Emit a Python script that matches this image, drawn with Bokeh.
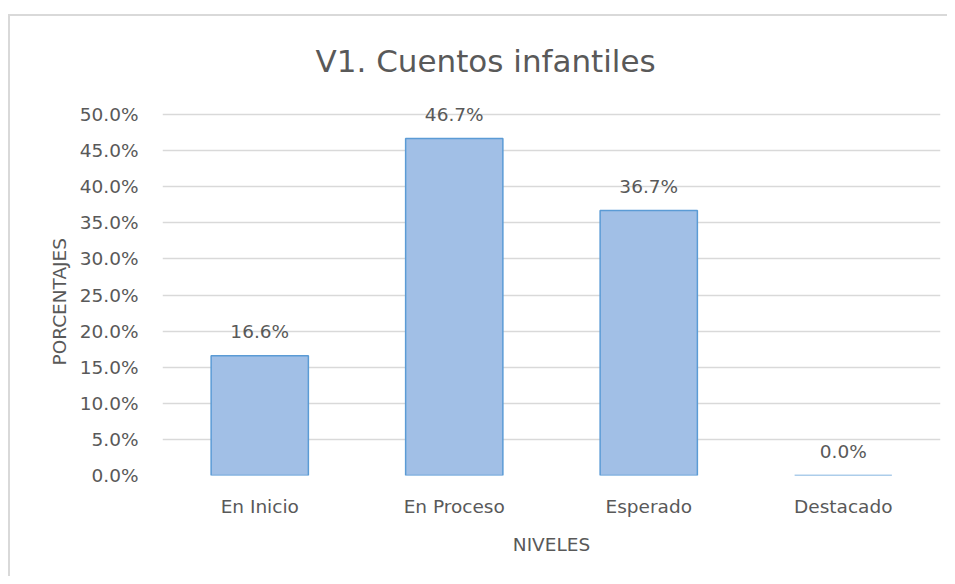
from bokeh.plotting import figure
from bokeh.layouts import column
from bokeh.models import (ColumnDataSource, NumeralTickFormatter, FixedTicker,
                          LabelSet, Range1d, InlineStyleSheet, Title)
from bokeh.core.properties import value
from bokeh.embed import file_html
from bokeh.resources import INLINE

categories = ["En Inicio", "En Proceso", "Esperado", "Destacado"]
percentages = [0.166, 0.467, 0.367, 0.0]
y_ticks = [0.0, 0.05, 0.10, 0.15, 0.20, 0.25, 0.30, 0.35, 0.40, 0.45, 0.50]
title_text = "V1. Cuentos  infantiles"
x_title = "NIVELES"
y_title = "PORCENTAJES"

FONT = "DejaVu Sans"
GRAY = "#595959"
FS = "18.5px"

W, H = 947, 576
FL, FR, FT, FB = 162, 7, 78, 101  # frame borders
Y_MAX = 0.55  # headroom above the 50% line for the value labels

labels = [f"{v * 100:.1f}%" for v in percentages]
src = ColumnDataSource(dict(cat=categories, val=percentages, lab=labels))

p = figure(x_range=categories, y_range=Range1d(0, Y_MAX), width=W, height=H,
           output_backend="svg", toolbar_location=None,
           min_border_left=FL, min_border_right=FR,
           min_border_top=FT, min_border_bottom=FB,
           title=title_text)
p.outline_line_color = None
p.background_fill_color = "white"
p.border_fill_color = None  # let the page background (with chart border) show

p.title.align = "left"
p.title.offset = 153
p.title.standoff = 0
p.title.vertical_align = "bottom"
p.title.text_font = FONT
p.title.text_font_size = "31px"
p.title.text_font_style = "normal"
p.title.text_color = GRAY

p.vbar(x="cat", top="val", width=0.5, source=src,
       fill_color="#a1bfe6", line_color="#5b9bd5", line_width=1.5)

p.add_layout(LabelSet(x="cat", y="val", text="lab", source=src,
                      text_align="center", text_baseline="middle", y_offset=24,
                      text_color=GRAY, text_font=value(FONT), text_font_size=FS))

# axes
p.yaxis.ticker = FixedTicker(ticks=y_ticks)
p.yaxis.formatter = NumeralTickFormatter(format="0.0%")
for ax in (p.xaxis[0], p.yaxis[0]):
    ax.axis_line_color = None
    ax.major_tick_line_color = None
    ax.minor_tick_line_color = None
    ax.major_label_text_color = GRAY
    ax.major_label_text_font = FONT
    ax.major_label_text_font_size = FS
    ax.axis_label_text_color = GRAY
    ax.axis_label_text_font = FONT
    ax.axis_label_text_font_size = FS
    ax.axis_label_text_font_style = "normal"
p.yaxis.major_label_standoff = 18
p.xaxis.major_label_standoff = 14
p.xaxis.axis_label = x_title
p.xaxis.axis_label_standoff = 14

# y-axis title, centred on the 0-50% span (not on the whole frame)
p.add_layout(Title(text=y_title, align="left", offset=110, standoff=14,
                   vertical_align="bottom", text_font=FONT, text_font_size=FS,
                   text_font_style="normal", text_color=GRAY), "left")

p.xgrid.grid_line_color = None
p.ygrid.grid_line_color = "#d9d9d9"
p.ygrid.grid_line_width = 1.3
p.ygrid.ticker = FixedTicker(ticks=y_ticks)

# chart's outer border (light grey lines at the chart's left and top edges)
layout = column(p, stylesheets=[InlineStyleSheet(css="""
:host {
  background-color: white;
  background-image: linear-gradient(#d9d9d9, #d9d9d9), linear-gradient(#d9d9d9, #d9d9d9);
  background-size: 2px 100%, 100% 2px;
  background-position: 8px 14px, 8px 14px;
  background-repeat: no-repeat;
}
""")])

open("out.html", "w").write(file_html(layout, INLINE))
